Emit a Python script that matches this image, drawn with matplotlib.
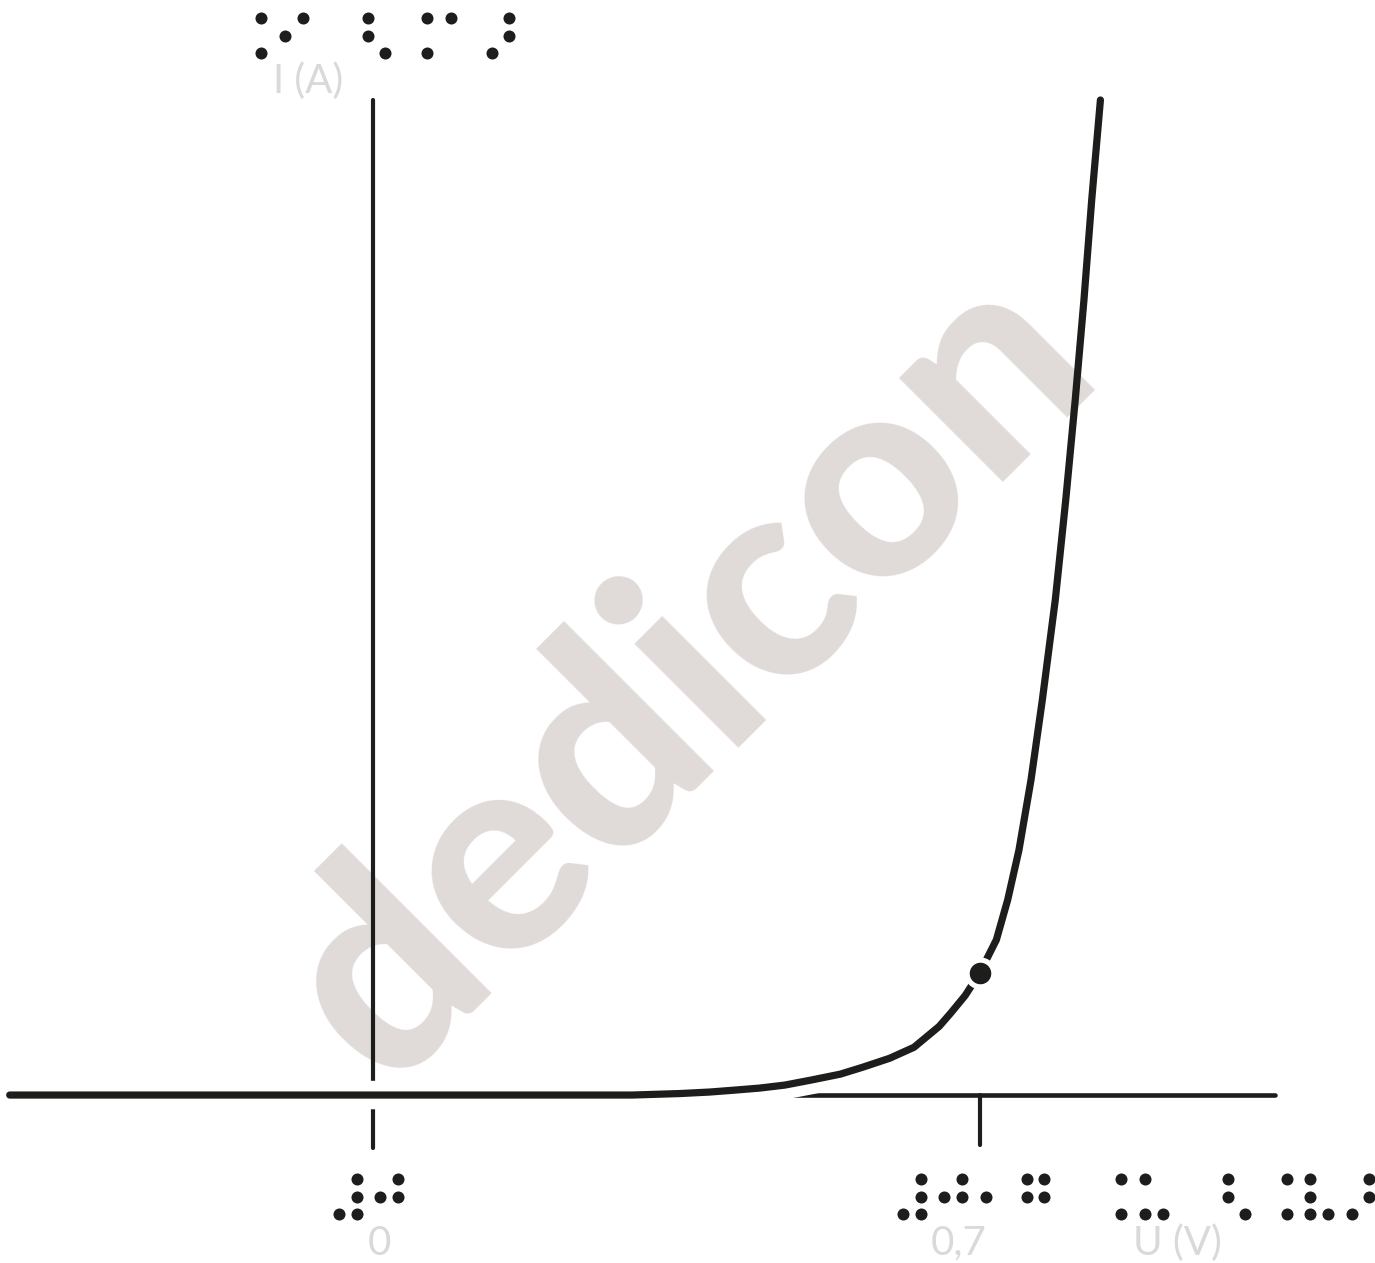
import matplotlib
matplotlib.use("Agg")
import matplotlib.pyplot as plt
from matplotlib.patches import Rectangle

# diode characteristic, U in volt, I in arbitrary units
u_curve = [-0.419, 0.299, 0.354, 0.388, 0.418, 0.446, 0.475, 0.505, 0.539, 0.565,
           0.596, 0.624, 0.653, 0.666, 0.683, 0.700, 0.719, 0.732, 0.745, 0.759,
           0.772, 0.787, 0.799, 0.810, 0.820, 0.829, 0.839]
i_curve = [0.0, 0.0, 0.015, 0.03, 0.05, 0.07, 0.10, 0.15, 0.21, 0.28,
           0.37, 0.48, 0.69, 0.82, 1.00, 1.23, 1.56, 1.96, 2.46, 3.17,
           3.97, 4.98, 5.98, 6.99, 7.99, 9.00, 10.0]
knee_u = [0.700]
knee_i = [1.23]

x_ticks = [0.0, 0.7]
x_tick_labels = ["0", "0,7"]
x_tick_braille = ["⠼⠚", "⠼⠚⠂⠛"]
x_label = "U (V)"
x_label_braille = "⠨⠥⠀⠣⠨⠧⠜"
y_label = "I (A)"
y_label_braille = "⠨⠊⠀⠣⠨⠁⠜"

fig = plt.figure(figsize=(13.75, 12.63), dpi=100)
ax = fig.add_axes([0, 0, 1, 1])
ax.set_xlim(-0.4302, 1.1557)
ax.set_ylim(-1.688, 11.005)
ax.axis("off")

black = "#1d1d1b"
grey = "#d9d9d9"


def braille(s, u0, i0, pitch=0.04764, col=0.0202, row=0.176):
    # draw a braille string as dots, first cell's dot 1 at (u0, i0)
    us, is_ = [], []
    for k, ch in enumerate(s):
        bits = ord(ch) - 0x2800
        for d in range(6):
            if bits & (1 << d):
                us.append(u0 + k * pitch + (d // 3) * col)
                is_.append(i0 - (d % 3) * row)
    ax.scatter(us, is_, s=75, color=black, linewidths=0, zorder=6)


# watermark
ax.text(0.362, 4.24, "dedicon", rotation=45, ha="center", va="center",
        fontsize=205, family="Lato", fontweight="black", color="#e0dbd9", zorder=1)

# axes
ax.plot([-0.419, 1.040], [0, 0], color=black, lw=3.3, solid_capstyle="round", zorder=2)
ax.plot([0, 0], [-0.53, 10.0], color=black, lw=3.0, solid_capstyle="round", zorder=2)
ax.plot([0.7, 0.7], [-0.50, 0], color=black, lw=3.0, solid_capstyle="round", zorder=2)

# white halo of the curve where it meets the axes
halo, = ax.plot(u_curve, i_curve, color="white", lw=20.5, solid_capstyle="butt", zorder=3)
halo.set_clip_path(Rectangle((-0.45, -1.0), 1.7, 2.2, transform=ax.transData))

ax.plot(u_curve, i_curve, color=black, lw=5.2, solid_capstyle="round",
        solid_joinstyle="round", zorder=4)
ax.plot(knee_u, knee_i, "o", color="white", ms=22, zorder=5)
ax.plot(knee_u, knee_i, "o", color=black, ms=14.5, zorder=6)

# print labels
lab = dict(family="Lato", fontsize=29, color=grey, ha="center", va="center")
for x, t in zip([0.008, 0.675], x_tick_labels):
    ax.text(x, -1.49, t, **lab)
ax.text(0.928, -1.49, x_label, **lab)
ax.text(-0.075, 10.19, y_label, **lab)

# braille
braille(y_label_braille, -0.1488, 10.824)
braille(x_tick_braille[0], -0.0392, -0.844)
braille(x_tick_braille[1], 0.6113, -0.844)
braille(x_label_braille, 0.8431, -0.844)

fig.savefig("out.png", dpi=100)
